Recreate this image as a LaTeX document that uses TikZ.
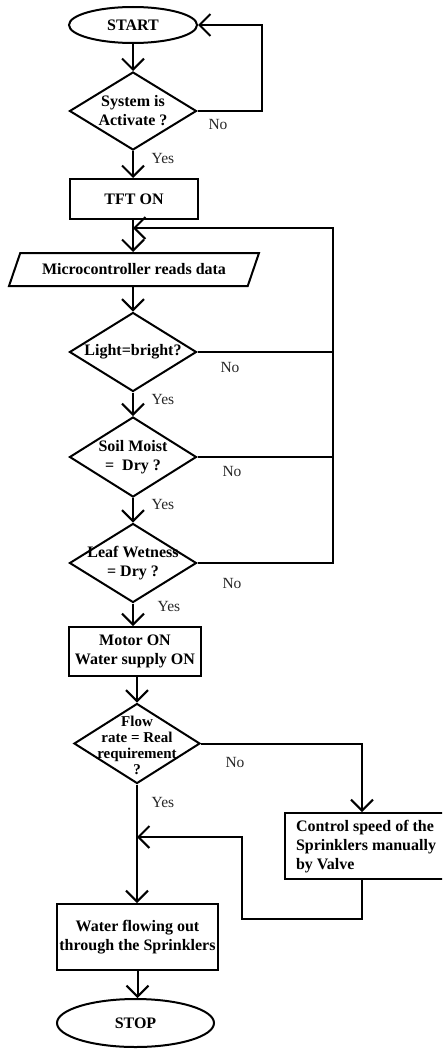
\documentclass[tikz,border=0pt]{standalone}
\usepackage{fontspec}
\setmainfont{Liberation Serif}
\usetikzlibrary{arrows.meta,shapes.geometric}
\begin{document}
\begin{tikzpicture}[x=1pt,y=-1pt, line width=2pt,
  bfont/.style={font=\fontsize{16}{19}\selectfont\bfseries},
  lab/.style={font=\fontsize{15.5}{18}\selectfont, inner sep=0pt, text=black!85},
  term/.style={draw, ellipse, inner sep=0pt, bfont},
  proc/.style={draw, rectangle, inner sep=0pt, bfont, align=center},
  decision/.style={draw, diamond, inner sep=0pt},
  dtext/.style={bfont, align=center, inner sep=0pt},
  io/.style={draw, trapezium, trapezium left angle=45, trapezium right angle=135, trapezium stretches body, inner sep=0pt, bfont},
  arr/.style={-{Straight Barb[length=11pt,width=22pt]}}
]
\clip (0,0) rectangle (442,1049);

% nodes
\node[term, minimum width=128pt, minimum height=36pt] (start) at (133,25) {START};
\node[decision, minimum width=127pt, minimum height=78pt] (d1) at (133,111) {};
\node[dtext] (d1t) at (d1) {System is\\Activate ?};
\node[proc, minimum width=128pt, minimum height=40pt] (tft) at (134,199) {TFT ON};
\node[io, minimum width=250pt, minimum height=33pt] (para) at (134,269.5) {Microcontroller reads data};
\node[decision, minimum width=127pt, minimum height=79pt] (d2) at (133,352) {};
\node[dtext] (d2t) at (d2) {Light=bright?};
\node[decision, minimum width=127pt, minimum height=80pt] (d3) at (133,457) {};
\node[dtext] (d3t) at (d3) {Soil Moist\\=\ \ Dry ?};
\node[decision, minimum width=127pt, minimum height=79pt] (d4) at (133,563) {};
\node[dtext] (d4t) at (d4) {Leaf Wetness\\= Dry ?};
\node[proc, minimum width=132pt, minimum height=49pt] (motor) at (135,651.5) {Motor ON\\Water supply ON};
\node[decision, minimum width=126pt, minimum height=80pt] (d5) at (137,743.5) {};
\node[dtext, font=\fontsize{15}{16}\selectfont\bfseries] (d5t) at (137,745) {Flow\\rate = Real\\requirement\\?};
\node[proc, minimum width=166pt, minimum height=66pt] (ctrl) at (368,846) {};
\node[bfont, align=left, anchor=west, inner sep=0pt] (ctrlt) at (295,847) {Control speed of the\\Sprinklers manually\\by Valve};
\node[proc, minimum width=161pt, minimum height=66pt] (water) at (137.5,937) {Water flowing out\\through the Sprinklers};
\node[term, minimum width=157pt, minimum height=48pt] (stop) at (135.5,1023) {STOP};

% junction coordinates
\coordinate (j1) at (133,228);
\coordinate (j2) at (137,837);
\coordinate (c1) at (262,111);
\coordinate (r1) at (333,563);
\coordinate (r2) at (362,743.5);
\coordinate (r3) at (242,919);

% connectors
\draw[arr] (start.south) -- (d1.north);
\draw[arr] (d1.east) -- (c1) |- (start.east);
\draw[arr] (d1.south) -- (d1.south |- tft.north);
\draw[arr] (tft.south -| j1) -- (para.north -| j1);
\draw[arr] (para.south -| j1) -- (d2.north);
\draw[arr] (d2.south) -- (d3.north);
\draw[arr] (d3.south) -- (d4.north);
\draw (d2.east) -- (d2.east -| r1);
\draw (d3.east) -- (d3.east -| r1);
\draw[arr] (d4.east) -- (r1) |- (j1);
\draw[arr] (d4.south) -- (d4.south |- motor.north);
\draw[arr] (motor.south -| d5) -- (d5.north);
\draw[arr] (d5.east) -- (r2) -- (r2 |- ctrl.north);
\draw[arr] (ctrl.south -| r2) |- (r3) |- (j2);
\draw[arr] (d5.south) -- (d5.south |- water.north);
\draw[arr] (water.south) -- (water.south |- stop.north);

% labels
\node[lab] (n1) at (218,124) {No};
\node[lab] (y1) at (163,159) {Yes};
\node[lab] (n2) at (230,367) {No};
\node[lab] (y2) at (163,399) {Yes};
\node[lab] (n3) at (232,471) {No};
\node[lab] (y3) at (163,504) {Yes};
\node[lab] (n4) at (232,583) {No};
\node[lab] (y4) at (169,606) {Yes};
\node[lab] (n5) at (235,762) {No};
\node[lab] (y5) at (163,802) {Yes};
\end{tikzpicture}
\end{document}
